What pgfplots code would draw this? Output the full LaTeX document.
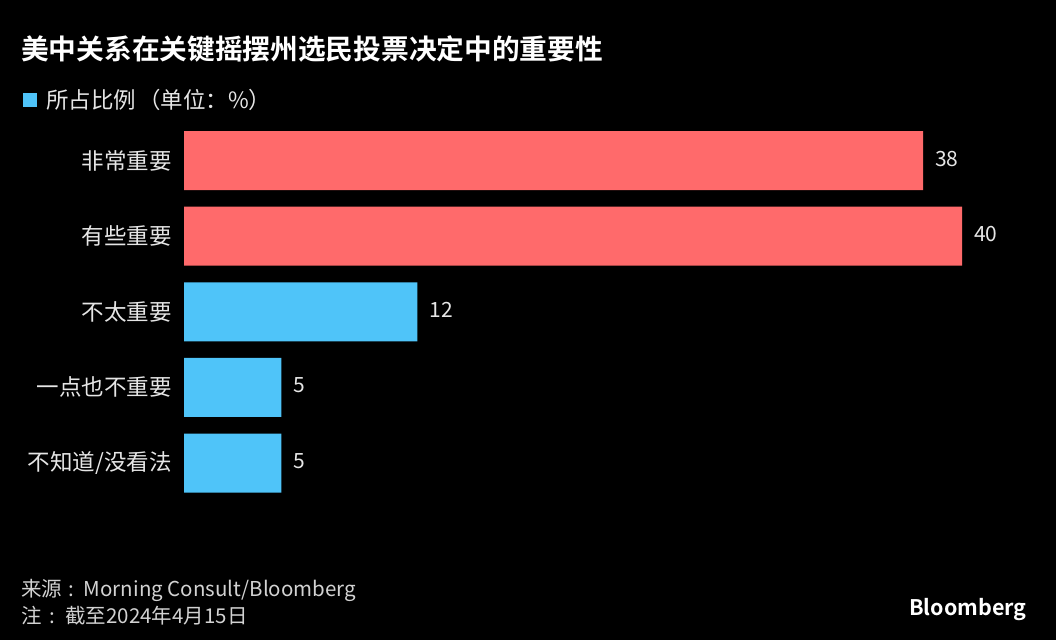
\documentclass[border=0pt]{standalone}
\usepackage{pgfplots}
\pgfplotsset{compat=1.18}
\usepackage{fontspec}
\setmainfont{Noto Sans CJK SC}[BoldFont={Noto Sans CJK SC Bold}]
\definecolor{barred}{HTML}{FF6A6B}
\definecolor{barblue}{HTML}{4FC4F9}
\definecolor{labgray}{HTML}{E6E6E6}
\definecolor{footgray}{HTML}{D2D2D2}
\begin{document}
\begin{tikzpicture}
\path[use as bounding box] (0,0) rectangle (1056pt,640pt);
\fill[black] (0,0) rectangle (1056pt,640pt);
\node[anchor=west, text=white, font=\bfseries\fontsize{27.7}{32}\selectfont, inner sep=0pt] at (21pt,591pt) {美中关系在关键摇摆州选民投票决定中的重要性};
\fill[barblue] (23pt,533pt) rectangle (37pt,547pt);
\node[anchor=west, text=labgray, font=\fontsize{22.5}{26}\selectfont, inner sep=0pt] at (46pt,540pt) {所占比例\hspace{2pt}（单位：\%）};
\begin{axis}[
  at={(184pt,139.2pt)}, anchor=south west,
  scale only axis, width=778pt, height=378pt,
  xmin=0, xmax=40, ymin=-0.5, ymax=4.5,
  /pgf/number format/assume math mode=true,
  xbar, bar width=59pt, bar shift=0pt,
  axis line style={draw=none}, tick style={draw=none},
  xtick=\empty,
  ytick={0,1,2,3,4},
  yticklabels={不知道/没看法,一点也不重要,不太重要,有些重要,非常重要},
  yticklabel style={text=labgray, font=\fontsize{22.5}{26}\selectfont, inner sep=0pt, xshift=-8pt},
  clip=false,
  nodes near coords,
  every node near coord/.append style={text=labgray, font=\fontsize{21}{24}\selectfont, inner sep=0pt, anchor=west, xshift=12pt, yshift=2pt},
]
\addplot[fill=barred, draw=none] coordinates {(38,4) (40,3)};
\addplot[fill=barblue, draw=none] coordinates {(12,2) (5,1) (5,0)};
\end{axis}
\node[anchor=west, text=footgray, font=\fontsize{20.5}{24}\selectfont, inner sep=0pt] at (21pt,50pt) {来源\hspace{6pt}:\hspace{10pt}Morning Consult/Bloomberg};
\node[anchor=west, text=footgray, font=\fontsize{20.5}{24}\selectfont, inner sep=0pt] at (21pt,24pt) {注\hspace{8pt}:\hspace{10pt}截至2024年4月15日};
\node[anchor=west, text=white, font=\bfseries\fontsize{21.5}{24}\selectfont, inner sep=0pt] at (909pt,30pt) {Bloomberg};
\end{tikzpicture}
\end{document}
